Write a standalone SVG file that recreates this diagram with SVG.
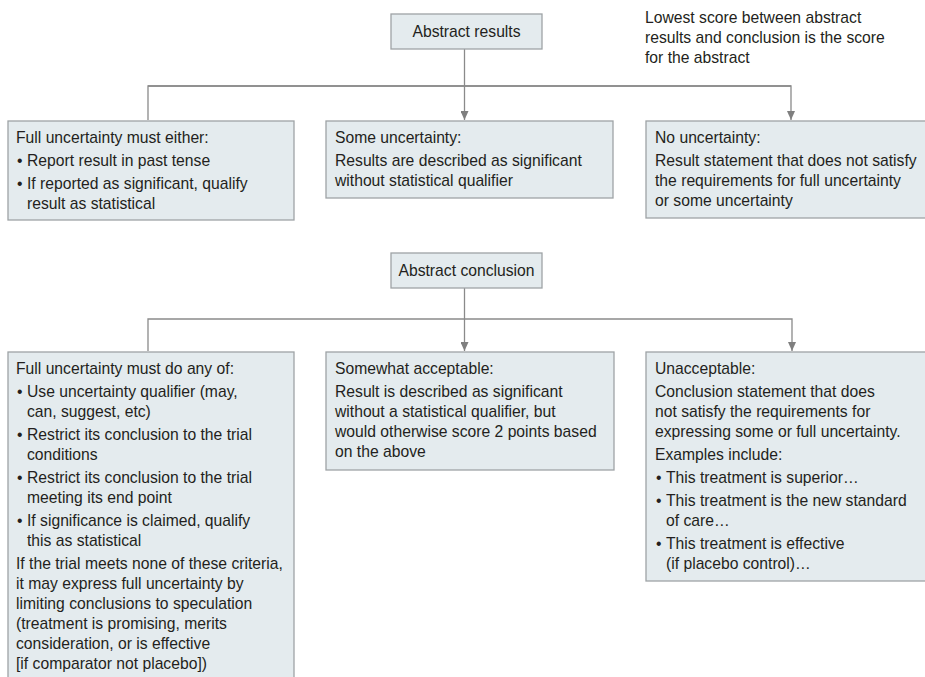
<svg xmlns="http://www.w3.org/2000/svg" width="925" height="677" viewBox="0 0 925 677">
<style>
  .box { fill: #e4ebee; stroke: #9ea3a6; stroke-width: 1.3; }
  .t { font-family: "Liberation Sans", Arial, sans-serif; font-size: 15.7px; fill: #231f20; }
  .c { text-anchor: middle; }
  .ln { fill: none; stroke: #8a8a8a; stroke-width: 1.3; }
  .arr { fill: none; stroke: #8a8a8a; stroke-width: 1.3; marker-end: url(#ah); }
</style>
<defs>
  <marker id="ah" viewBox="0 0 9 8" refX="9" refY="4" markerWidth="9" markerHeight="8" markerUnits="userSpaceOnUse" orient="auto">
    <path d="M0,0 L9,4 L0,8 z" fill="#7f7f7f"/>
  </marker>
</defs>
<rect width="925" height="677" fill="#ffffff"/>

<g id="connectors">
  <line class="arr" x1="464.5" y1="49" x2="464.5" y2="120"/>
  <polyline class="arr" points="148,120 148,86 791,86 791,120"/>
  <line class="ln" x1="148" y1="86" x2="791" y2="86"/>
  <line class="arr" x1="464.5" y1="288" x2="464.5" y2="351"/>
  <polyline class="arr" points="148,351 148,319 792,319 792,351"/>
</g>

<g id="abstract-results">
  <rect class="box" x="391" y="14" width="151" height="35"/>
  <text class="t c" x="466.5" y="37">Abstract results</text>
</g>

<g id="note">
  <text class="t" x="645" y="23">Lowest score between abstract</text>
  <text class="t" x="645" y="43">results and conclusion is the score</text>
  <text class="t" x="645" y="63">for the abstract</text>
</g>

<g id="results-full">
  <rect class="box" x="8" y="121" width="286" height="99"/>
  <text class="t" x="16" y="143">Full uncertainty must either:</text>
  <text class="t" x="17" y="166">•</text><text class="t" x="27" y="166">Report result in past tense</text>
  <text class="t" x="17" y="189">•</text><text class="t" x="27" y="189">If reported as significant, qualify</text>
  <text class="t" x="27" y="209">result as statistical</text>
</g>

<g id="results-some">
  <rect class="box" x="326" y="121" width="287" height="77"/>
  <text class="t" x="335" y="143">Some uncertainty:</text>
  <text class="t" x="335" y="166">Results are described as significant</text>
  <text class="t" x="335" y="186">without statistical qualifier</text>
</g>

<g id="results-none">
  <rect class="box" x="646" y="121" width="280" height="97"/>
  <text class="t" x="655" y="143">No uncertainty:</text>
  <text class="t" x="655" y="166">Result statement that does not satisfy</text>
  <text class="t" x="655" y="186">the requirements for full uncertainty</text>
  <text class="t" x="655" y="206">or some uncertainty</text>
</g>

<g id="abstract-conclusion">
  <rect class="box" x="391" y="253" width="151" height="35"/>
  <text class="t c" x="466.5" y="276">Abstract conclusion</text>
</g>

<g id="conclusion-full">
  <rect class="box" x="8" y="352" width="286" height="330"/>
  <text class="t" x="16" y="374">Full uncertainty must do any of:</text>
  <text class="t" x="17" y="397">•</text><text class="t" x="27" y="397">Use uncertainty qualifier (may,</text>
  <text class="t" x="27" y="417">can, suggest, etc)</text>
  <text class="t" x="17" y="440">•</text><text class="t" x="27" y="440">Restrict its conclusion to the trial</text>
  <text class="t" x="27" y="460">conditions</text>
  <text class="t" x="17" y="483">•</text><text class="t" x="27" y="483">Restrict its conclusion to the trial</text>
  <text class="t" x="27" y="503">meeting its end point</text>
  <text class="t" x="17" y="526">•</text><text class="t" x="27" y="526">If significance is claimed, qualify</text>
  <text class="t" x="27" y="546">this as statistical</text>
  <text class="t" x="16" y="569">If the trial meets none of these criteria,</text>
  <text class="t" x="16" y="589">it may express full uncertainty by</text>
  <text class="t" x="16" y="609">limiting conclusions to speculation</text>
  <text class="t" x="16" y="629">(treatment is promising, merits</text>
  <text class="t" x="16" y="649">consideration, or is effective</text>
  <text class="t" x="16" y="669">[if comparator not placebo])</text>
</g>

<g id="conclusion-somewhat">
  <rect class="box" x="326" y="352" width="288" height="118"/>
  <text class="t" x="335" y="374">Somewhat acceptable:</text>
  <text class="t" x="335" y="397">Result is described as significant</text>
  <text class="t" x="335" y="417">without a statistical qualifier, but</text>
  <text class="t" x="335" y="437">would otherwise score 2 points based</text>
  <text class="t" x="335" y="457">on the above</text>
</g>

<g id="conclusion-unacceptable">
  <rect class="box" x="646" y="352" width="280" height="229"/>
  <text class="t" x="655" y="374">Unacceptable:</text>
  <text class="t" x="655" y="397">Conclusion statement that does</text>
  <text class="t" x="655" y="417">not satisfy the requirements for</text>
  <text class="t" x="655" y="437">expressing some or full uncertainty.</text>
  <text class="t" x="655" y="460">Examples include:</text>
  <text class="t" x="656" y="483">•</text><text class="t" x="666" y="483">This treatment is superior…</text>
  <text class="t" x="656" y="506">•</text><text class="t" x="666" y="506">This treatment is the new standard</text>
  <text class="t" x="666" y="526">of care…</text>
  <text class="t" x="656" y="549">•</text><text class="t" x="666" y="549">This treatment is effective</text>
  <text class="t" x="666" y="569">(if placebo control)…</text>
</g>
</svg>
